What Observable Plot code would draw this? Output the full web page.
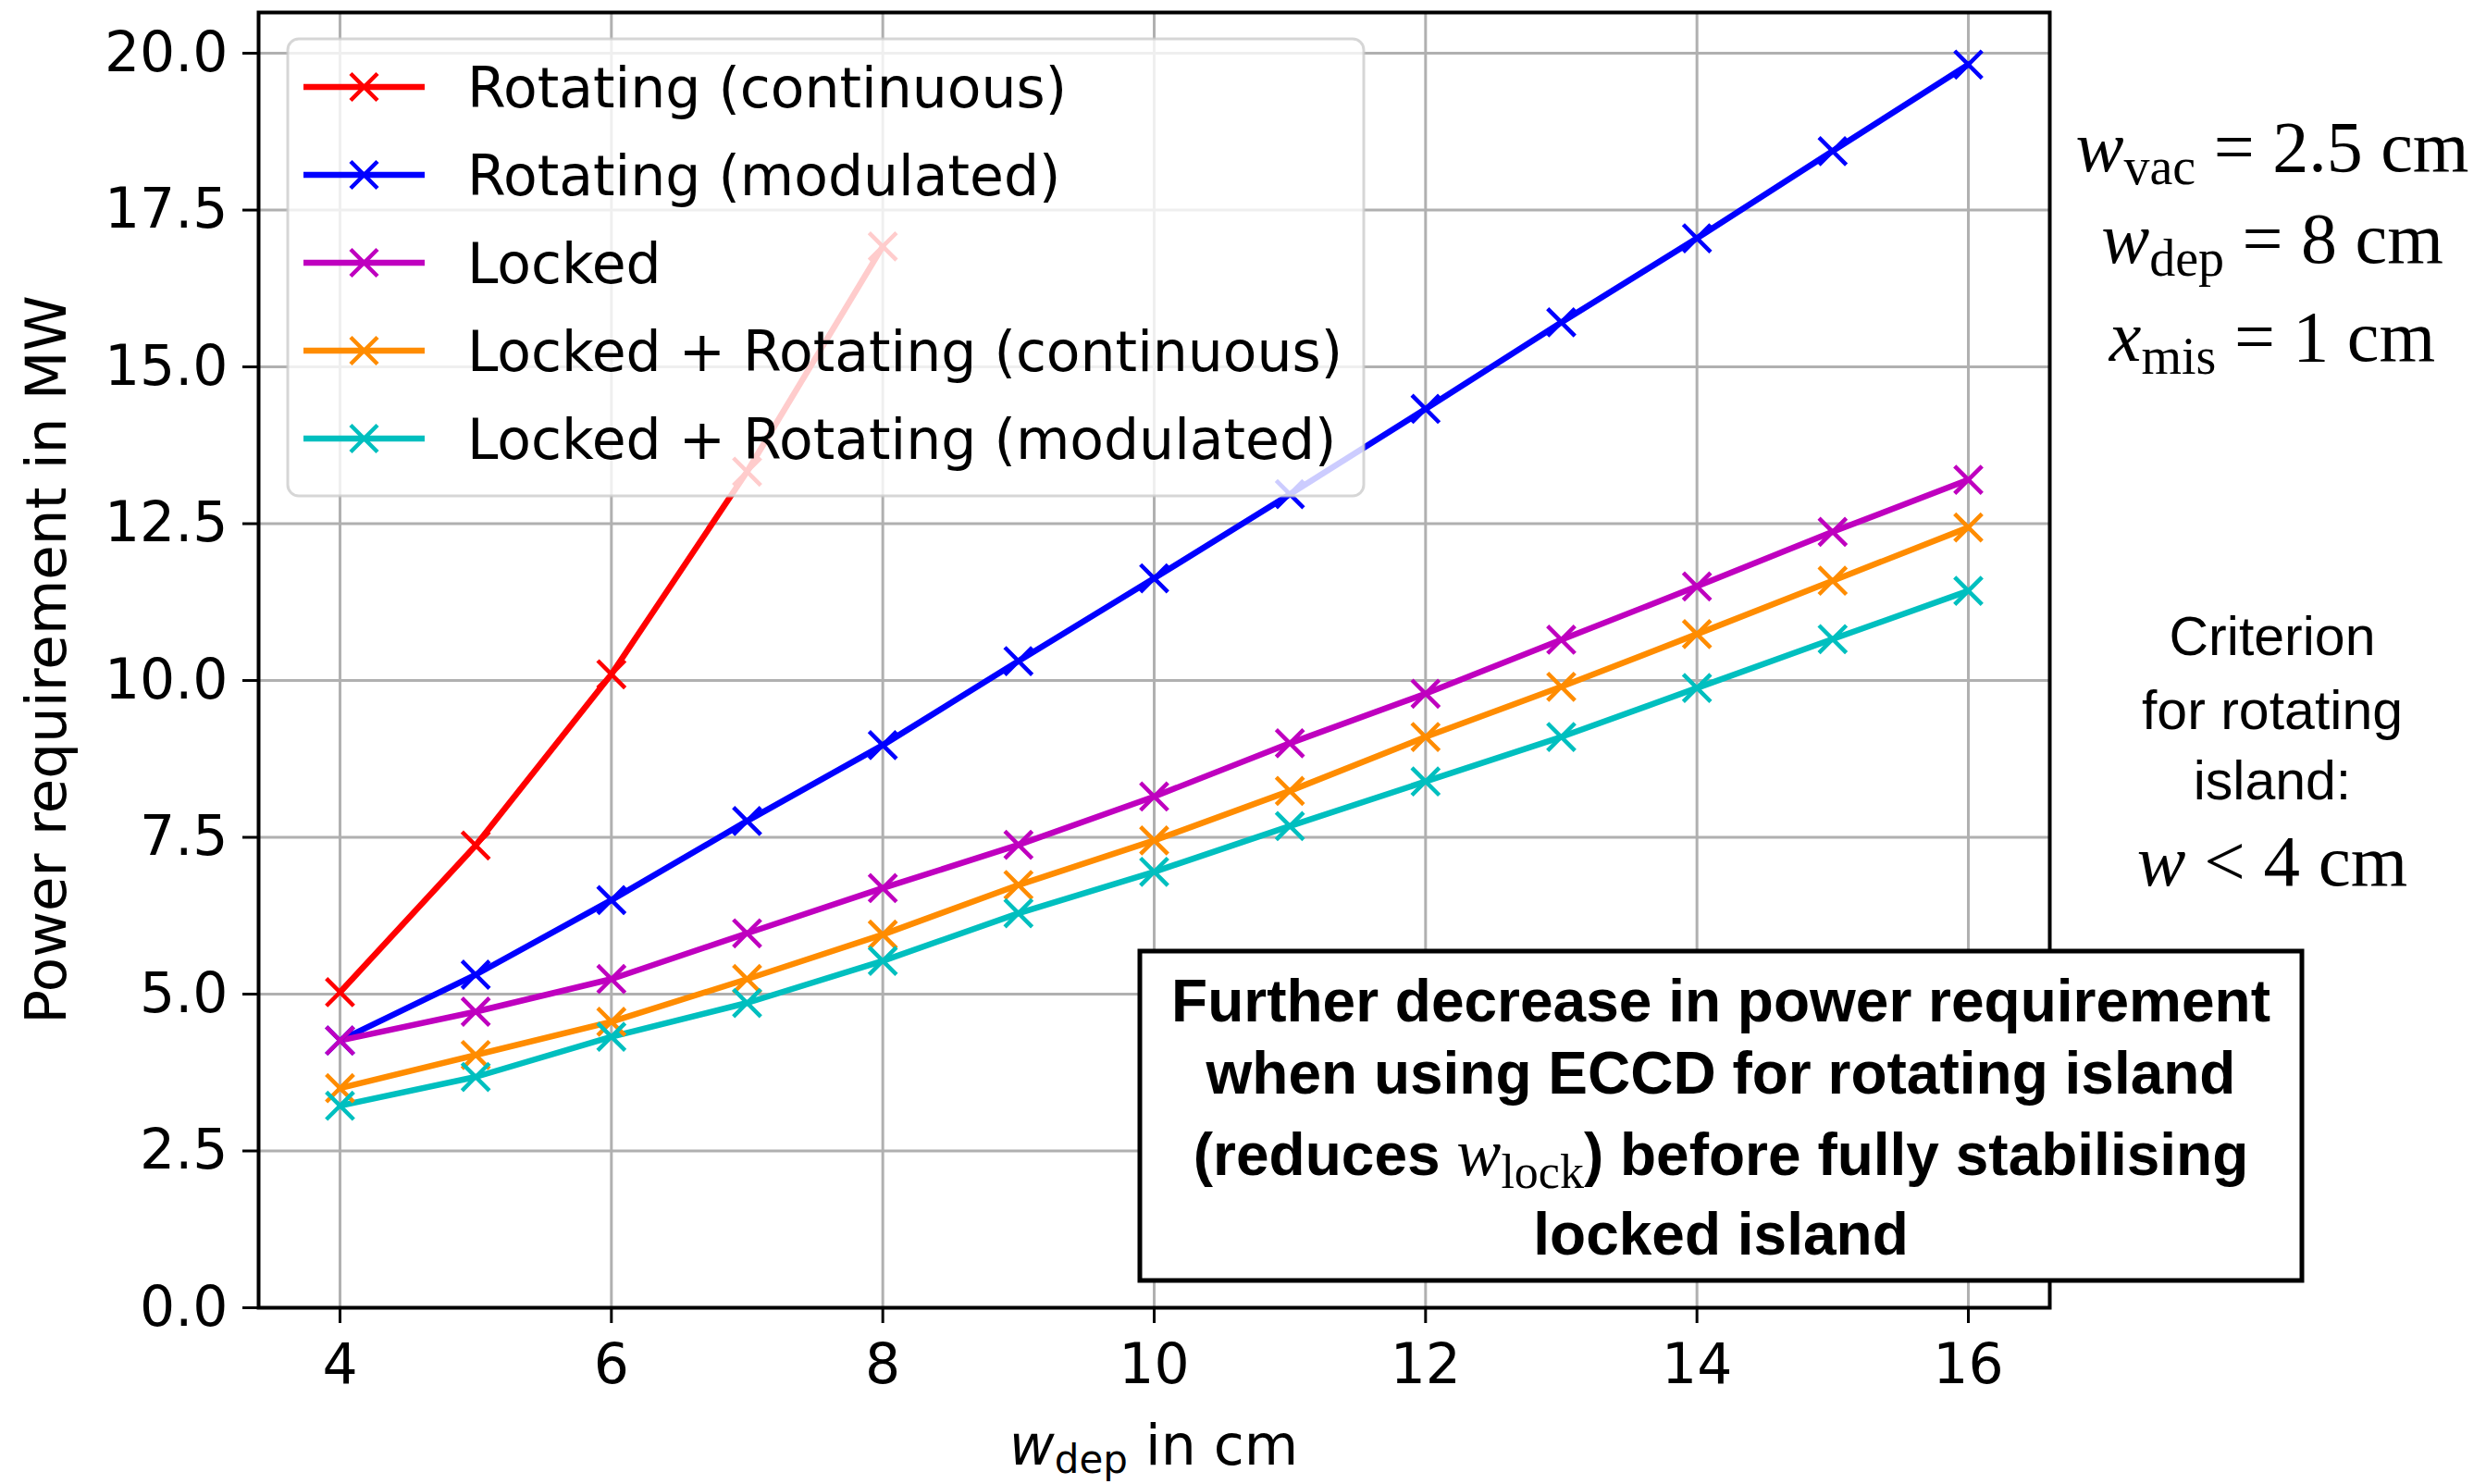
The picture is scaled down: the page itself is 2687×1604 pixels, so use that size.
<!DOCTYPE html>
<html><head><meta charset="utf-8">
<script src="https://cdn.jsdelivr.net/npm/d3@7"></script>
<script src="https://cdn.jsdelivr.net/npm/@observablehq/plot@0.6"></script>
<style>
html,body{margin:0;padding:0;background:#fff;}
#chart{width:2687px;height:1604px;position:relative;overflow:hidden;}
</style></head><body><div id="chart"></div>
<script>
// ---- data ----
const wDep = [4,5,6,7,8,9,10,11,12,13,14,15,16];
const seriesNames = [
  "Rotating (continuous)",
  "Rotating (modulated)",
  "Locked",
  "Locked + Rotating (continuous)",
  "Locked + Rotating (modulated)"
];
const seriesColors = ["#ff0000", "#0000ff", "#bf00bf", "#ff8c00", "#00bfbf"];
const rotatingContinuous = [5.03, 7.37, 10.10, 13.33, 16.92];
const rotatingModulated = [4.26, 5.31, 6.50, 7.76, 8.97, 10.31, 11.63, 12.97, 14.33, 15.71, 17.05, 18.44, 19.82];
const locked = [4.26, 4.72, 5.24, 5.97, 6.69, 7.38, 8.15, 9.00, 9.79, 10.65, 11.50, 12.37, 13.20];
const lockedRotContinuous = [3.50, 4.03, 4.56, 5.24, 5.95, 6.74, 7.45, 8.24, 9.10, 9.90, 10.74, 11.59, 12.44];
const lockedRotModulated = [3.22, 3.68, 4.32, 4.86, 5.53, 6.29, 6.95, 7.68, 8.39, 9.10, 9.88, 10.66, 11.43];
const xTicks = [4, 6, 8, 10, 12, 14, 16];
const yTicks = [0, 2.5, 5, 7.5, 10, 12.5, 15, 17.5, 20];

const allSeries = [rotatingContinuous, rotatingModulated, locked, lockedRotContinuous, lockedRotModulated];
const rows = [];
allSeries.forEach((vals, i) => vals.forEach((v, j) => rows.push({x: wDep[j], y: v, series: seriesNames[i]})));

const W = 2687, H = 1604;
const mL = 279, mR = 472, mT = 13, mB = 191;
const tickFont = 60;

const plot = Plot.plot({
  width: W, height: H,
  marginLeft: mL, marginRight: mR, marginTop: mT, marginBottom: mB,
  style: {fontFamily: "DejaVu Sans", fontSize: tickFont + "px", color: "#000", background: "#fff", overflow: "visible"},
  x: {domain: [3.4, 16.6]},
  y: {domain: [0, 20.65]},
  color: {domain: seriesNames, range: seriesColors},
  marks: [
    Plot.gridX(xTicks, {stroke: "#b0b0b0", strokeOpacity: 1, strokeWidth: 3}),
    Plot.gridY(yTicks, {stroke: "#b0b0b0", strokeOpacity: 1, strokeWidth: 3}),
    Plot.axisX({ticks: xTicks, tickSize: 17, tickPadding: 22, strokeWidth: 3, stroke: "#000", fontSize: tickFont, label: null, tickFormat: d => String(d)}),
    Plot.axisY({ticks: yTicks, tickSize: 17, tickPadding: 16, strokeWidth: 3, stroke: "#000", fontSize: tickFont, label: null, tickFormat: d3.format(".1f")}),
    Plot.line(rows, {x: "x", y: "y", z: "series", stroke: "series", strokeWidth: 6.5}),
    Plot.dot(rows, {x: "x", y: "y", stroke: "series", symbol: "times", r: 13.5, strokeWidth: 4.5}),
    Plot.frame({stroke: "#000", strokeWidth: 4})
  ]
});
document.getElementById("chart").appendChild(plot);

const svg = d3.select(plot);

// axis labels
const xl = svg.append("text").attr("x", (mL + (W - mR)) / 2).attr("y", 1583)
  .attr("text-anchor", "middle").attr("font-family", "DejaVu Sans").attr("font-size", 60).attr("fill", "#000");
xl.append("tspan").attr("font-style", "italic").text("w");
xl.append("tspan").attr("font-size", 42).attr("dy", 9).text("dep");
xl.append("tspan").attr("dy", -9).text(" in cm");

svg.append("text").attr("transform", `translate(71,${(mT + H - mB) / 2}) rotate(-90)`)
  .attr("text-anchor", "middle").attr("font-family", "DejaVu Sans").attr("font-size", 61).attr("fill", "#000")
  .text("Power requirement in MW");

// legend
const lg = svg.append("g");
lg.append("rect").attr("x", 311).attr("y", 42).attr("width", 1163).attr("height", 494).attr("rx", 12)
  .attr("fill", "#fff").attr("fill-opacity", 0.8).attr("stroke", "#cccccc").attr("stroke-opacity", 0.8).attr("stroke-width", 3);
seriesNames.forEach((name, i) => {
  const yy = 94 + i * 95;
  const c = seriesColors[i];
  lg.append("line").attr("x1", 328).attr("x2", 459).attr("y1", yy).attr("y2", yy).attr("stroke", c).attr("stroke-width", 6.5);
  const s = 14.5;
  lg.append("path").attr("d", `M${393.5 - s},${yy - s}L${393.5 + s},${yy + s}M${393.5 - s},${yy + s}L${393.5 + s},${yy - s}`)
    .attr("stroke", c).attr("stroke-width", 4.5).attr("fill", "none");
  lg.append("text").attr("x", 505).attr("y", yy + 22).attr("text-anchor", "start")
    .attr("font-family", "DejaVu Sans").attr("font-size", 60).attr("fill", "#000").text(name);
});

// right-side parameters (serif math)
const params = [["w", "vac", " = 2.5 cm", 185], ["w", "dep", " = 8 cm", 284], ["x", "mis", " = 1 cm", 390]];
params.forEach(([v, sub, rest, yy]) => {
  const t = svg.append("text").attr("x", 2456).attr("y", yy).attr("text-anchor", "middle")
    .attr("font-family", "Liberation Serif").attr("font-size", 78).attr("fill", "#000");
  t.append("tspan").attr("font-style", "italic").text(v);
  t.append("tspan").attr("font-size", 56).attr("dy", 14).text(sub);
  t.append("tspan").attr("dy", -14).text(rest);
});

const critLines = [["Criterion", 708], ["for rotating", 788], ["island:", 864]];
critLines.forEach(([s, yy]) => {
  svg.append("text").attr("x", 2456).attr("y", yy).attr("text-anchor", "middle")
    .attr("font-family", "Liberation Sans").attr("font-size", 59).attr("fill", "#000").text(s);
});
const crit = svg.append("text").attr("x", 2456).attr("y", 957).attr("text-anchor", "middle")
  .attr("font-family", "Liberation Serif").attr("font-size", 79).attr("fill", "#000");
crit.append("tspan").attr("font-style", "italic").text("w");
crit.append("tspan").text(" < 4 cm");

// annotation box
svg.append("rect").attr("x", 1232).attr("y", 1028).attr("width", 1256).attr("height", 356)
  .attr("fill", "#fff").attr("stroke", "#000").attr("stroke-width", 5);
const boxLines = [
  ["Further decrease in power requirement", 1104],
  ["when using ECCD for rotating island", 1182],
  [null, 1270],
  ["locked island", 1356]
];
boxLines.forEach(([s, yy]) => {
  const t = svg.append("text").attr("x", 1860).attr("y", yy).attr("text-anchor", "middle")
    .attr("font-family", "Liberation Sans").attr("font-weight", "bold").attr("font-size", 64).attr("fill", "#000");
  if (s) { t.text(s); }
  else {
    t.append("tspan").text("(reduces ");
    t.append("tspan").attr("font-family", "Liberation Serif").attr("font-weight", "normal").attr("font-style", "italic").attr("font-size", 72).text("w");
    t.append("tspan").attr("font-family", "Liberation Serif").attr("font-weight", "normal").attr("font-size", 52).attr("dy", 14).text("lock");
    t.append("tspan").attr("dy", -14).text(") before fully stabilising");
  }
});
</script>
</body></html>
